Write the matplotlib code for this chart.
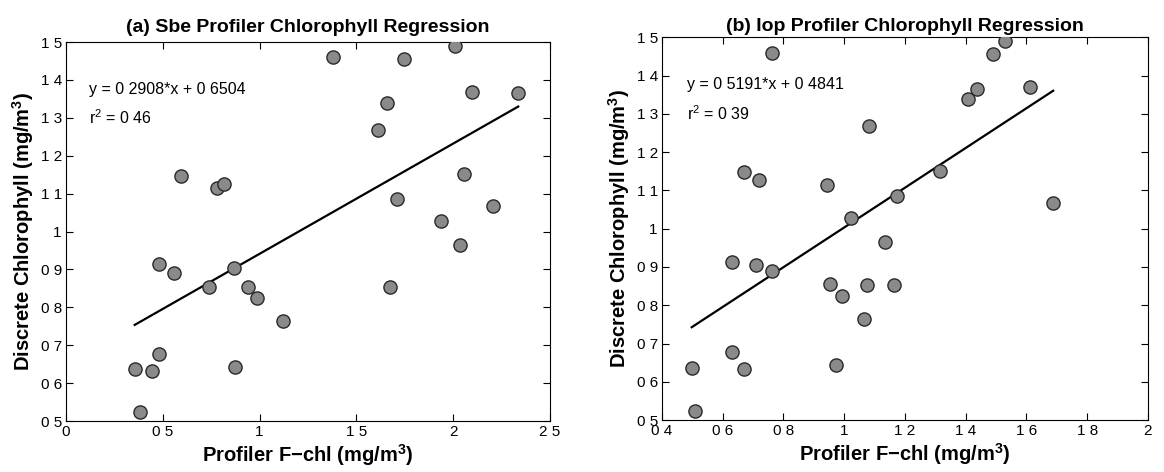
import numpy as np
import matplotlib.pyplot as plt

plt.rcParams['font.family'] = ['Liberation Sans', 'DejaVu Sans']
plt.rcParams['mathtext.fontset'] = 'custom'
plt.rcParams['mathtext.rm'] = 'Liberation Sans'
plt.rcParams['mathtext.it'] = 'Liberation Sans:italic'
plt.rcParams['mathtext.bf'] = 'Liberation Sans:bold'

# discrete chlorophyll (same samples in both panels)
sbe_x = [0.592, 0.778, 0.818, 1.381, 1.748, 2.009, 1.656, 1.613, 2.099, 2.336,
         2.056, 1.711, 2.207, 1.935, 2.035, 1.674, 0.482, 0.560, 0.739, 0.870,
         0.938, 0.985, 1.123, 0.479, 0.355, 0.443, 0.871, 0.382]
sbe_y = [1.147, 1.114, 1.125, 1.460, 1.454, 1.489, 1.340, 1.268, 1.369, 1.365,
         1.152, 1.086, 1.068, 1.029, 0.964, 0.853, 0.913, 0.890, 0.854, 0.904,
         0.854, 0.824, 0.764, 0.676, 0.636, 0.633, 0.643, 0.525]

iop_x = [0.761, 0.670, 0.720, 0.944, 1.083, 1.173, 1.021, 1.529, 1.491, 1.438,
         1.408, 1.612, 1.317, 1.688, 0.629, 0.709, 0.762, 1.134, 0.953, 0.994,
         1.074, 1.165, 1.065, 0.631, 0.498, 0.670, 0.973, 0.510]
iop_y = [1.460, 1.148, 1.126, 1.114, 1.268, 1.086, 1.029, 1.490, 1.456, 1.364,
         1.340, 1.369, 1.151, 1.068, 0.913, 0.905, 0.890, 0.964, 0.855, 0.824,
         0.854, 0.854, 0.763, 0.677, 0.637, 0.633, 0.644, 0.525]

sbe_fit = (0.2908, 0.6504)
iop_fit = (0.5191, 0.4841)

y_ticks = [0.5, 0.6, 0.7, 0.8, 0.9, 1.0, 1.1, 1.2, 1.3, 1.4, 1.5]
y_labels = ['0 5', '0 6', '0 7', '0 8', '0 9', '1', '1 1', '1 2', '1 3', '1 4', '1 5']
sbe_xticks = [0, 0.5, 1, 1.5, 2, 2.5]
sbe_xlabels = ['0', '0 5', '1', '1 5', '2', '2 5']
iop_xticks = [0.4, 0.6, 0.8, 1.0, 1.2, 1.4, 1.6, 1.8, 2.0]
iop_xlabels = ['0 4', '0 6', '0 8', '1', '1 2', '1 4', '1 6', '1 8', '2']

fig = plt.figure(figsize=(11.64, 4.72), dpi=100)
ax1 = fig.add_axes([0.0567, 0.108, 0.4158, 0.803])
ax2 = fig.add_axes([0.5687, 0.110, 0.4175, 0.811])


def panel(ax, x, y, fit, xlim, xticks, xlabels, title, tpad, eq, r2, tx):
    ax.plot(x, y, 'o', ms=9.5, mfc='#8a8a8a', mec='#2a2a2a', mew=1.0, zorder=3)
    xs = np.array([min(x), max(x)])
    ax.plot(xs, fit[0] * xs + fit[1], color='black', lw=1.6, zorder=2)
    ax.set_xlim(xlim)
    ax.set_ylim(0.5, 1.5)
    ax.set_xticks(xticks)
    ax.set_xticklabels(xlabels)
    ax.set_yticks(y_ticks)
    ax.set_yticklabels(y_labels)
    ax.tick_params(direction='in', top=True, right=True, labelsize=11, length=5, pad=3)
    ax.set_title(title, fontsize=14, fontweight='bold', pad=tpad)
    ax.set_xlabel('Profiler F\u2212chl (mg/m$^\\mathbf{3}$)', fontsize=14.5,
                  fontweight='bold', labelpad=2)
    ax.set_ylabel('Discrete Chlorophyll (mg/m$^\\mathbf{3}$)', fontsize=14.5,
                  fontweight='bold', labelpad=3)
    ax.text(tx, 1.376, eq, fontsize=11.5, va='center')
    ax.text(tx, 1.30, r2, fontsize=11.5, va='center')


panel(ax1, sbe_x, sbe_y, sbe_fit, (0, 2.5), sbe_xticks, sbe_xlabels,
      '(a) Sbe Profiler Chlorophyll Regression', 7.5,
      'y = 0 2908*x + 0 6504', 'r$^2$ = 0 46', 0.12)
panel(ax2, iop_x, iop_y, iop_fit, (0.4, 2.0), iop_xticks, iop_xlabels,
      '(b) Iop Profiler Chlorophyll Regression', 4.5,
      'y = 0 5191*x + 0 4841', 'r$^2$ = 0 39', 0.482)

fig.savefig('out.png', dpi=100)
